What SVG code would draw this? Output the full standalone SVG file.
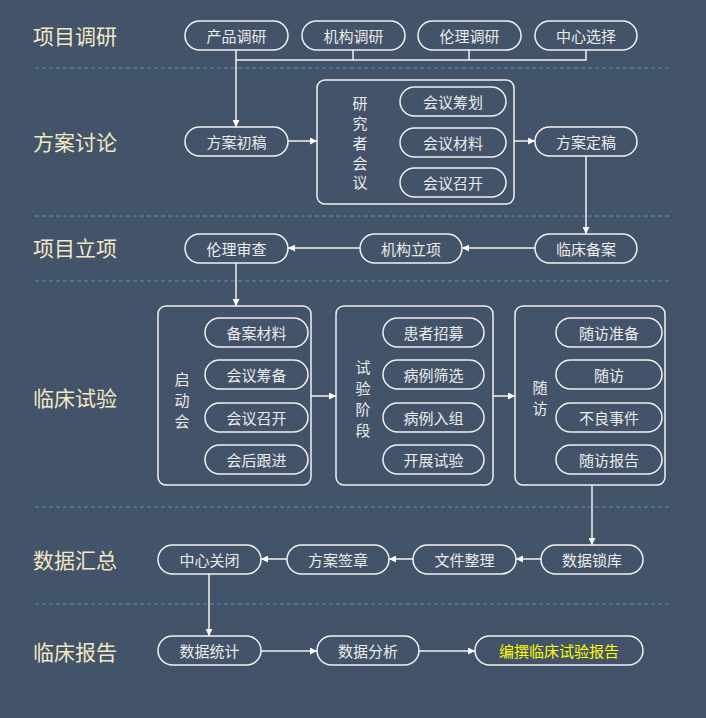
<svg xmlns="http://www.w3.org/2000/svg" width="706" height="718" viewBox="0 0 706 718">
<defs>
<marker id="ah" viewBox="0 0 10 10" refX="10" refY="5" markerWidth="7" markerHeight="7" orient="auto" markerUnits="userSpaceOnUse"><path d="M0,0L10,5L0,10z" fill="#fff"/></marker>
<style>
.p{fill:none;stroke:#f2f2f2;stroke-width:1.5}
.t{font-family:"Noto Sans CJK SC",sans-serif;font-size:15px;fill:#ececec;text-anchor:middle;dominant-baseline:central}
.s{font-family:"Noto Sans CJK SC",sans-serif;font-size:21px;fill:#f2e8c4;dominant-baseline:central}
.d{stroke:#4f8fd0;stroke-width:1;stroke-dasharray:4,3}
.c{fill:none;stroke:#f2f2f2;stroke-width:1.5}
</style>
</defs>
<rect width="706" height="718" fill="#435369"/>
<g id="dividers">
<line class="d" x1="35" y1="68" x2="672" y2="68"/>
<line class="d" x1="35" y1="216" x2="672" y2="216"/>
<line class="d" x1="35" y1="281" x2="672" y2="281"/>
<line class="d" x1="35" y1="507" x2="672" y2="507"/>
<line class="d" x1="35" y1="604" x2="672" y2="604"/>
</g>
<g id="sections">
<text class="s" x="33" y="35">项目调研</text>
<text class="s" x="33" y="141">方案讨论</text>
<text class="s" x="33" y="247">项目立项</text>
<text class="s" x="33" y="397">临床试验</text>
<text class="s" x="33" y="559">数据汇总</text>
<text class="s" x="33" y="651">临床报告</text>
</g>
<g id="connectors">
<path class="c" d="M236,50V60H586V50M353,50V60M469,50V60"/>
<path class="c" d="M236,60V127" marker-end="url(#ah)"/>
<path class="c" d="M288,141H317" marker-end="url(#ah)"/>
<path class="c" d="M514,141H535" marker-end="url(#ah)"/>
<path class="c" d="M586,156V234" marker-end="url(#ah)"/>
<path class="c" d="M535,248H462" marker-end="url(#ah)"/>
<path class="c" d="M360,248H288" marker-end="url(#ah)"/>
<path class="c" d="M236,263V306" marker-end="url(#ah)"/>
<path class="c" d="M311,396H336" marker-end="url(#ah)"/>
<path class="c" d="M493,396H515" marker-end="url(#ah)"/>
<path class="c" d="M592,485V545" marker-end="url(#ah)"/>
<path class="c" d="M541,559H516" marker-end="url(#ah)"/>
<path class="c" d="M413,559H389" marker-end="url(#ah)"/>
<path class="c" d="M287,559H261" marker-end="url(#ah)"/>
<path class="c" d="M209,574V636" marker-end="url(#ah)"/>
<path class="c" d="M261,651H317" marker-end="url(#ah)"/>
<path class="c" d="M419,651H475" marker-end="url(#ah)"/>
</g>
<g id="n1"><rect class="p" x="185" y="21" width="103" height="29" rx="14.5"/><text class="t" x="236.5" y="35.5">产品调研</text></g>
<g id="n2"><rect class="p" x="302" y="21" width="103" height="29" rx="14.5"/><text class="t" x="353.5" y="35.5">机构调研</text></g>
<g id="n3"><rect class="p" x="418" y="21" width="103" height="29" rx="14.5"/><text class="t" x="469.5" y="35.5">伦理调研</text></g>
<g id="n4"><rect class="p" x="535" y="21" width="102" height="29" rx="14.5"/><text class="t" x="586" y="35.5">中心选择</text></g>
<g id="n5"><rect class="p" x="185" y="127" width="103" height="29" rx="14.5"/><text class="t" x="236.5" y="141.5">方案初稿</text></g>
<g id="g1"><rect class="p" x="317" y="80" width="197" height="124" rx="8"/>
<text class="t" x="360" y="102">研</text><text class="t" x="360" y="122">究</text><text class="t" x="360" y="142">者</text><text class="t" x="360" y="162">会</text><text class="t" x="360" y="181">议</text>
<rect class="p" x="400" y="87" width="106" height="29" rx="14.5"/><text class="t" x="453" y="101.5">会议筹划</text>
<rect class="p" x="400" y="128" width="106" height="29" rx="14.5"/><text class="t" x="453" y="142.5">会议材料</text>
<rect class="p" x="400" y="168" width="106" height="29" rx="14.5"/><text class="t" x="453" y="182.5">会议召开</text></g>
<g id="n6"><rect class="p" x="535" y="127" width="102" height="29" rx="14.5"/><text class="t" x="586" y="141.5">方案定稿</text></g>
<g id="n7"><rect class="p" x="535" y="234" width="102" height="29" rx="14.5"/><text class="t" x="586" y="248.5">临床备案</text></g>
<g id="n8"><rect class="p" x="360" y="234" width="102" height="29" rx="14.5"/><text class="t" x="411" y="248.5">机构立项</text></g>
<g id="n9"><rect class="p" x="185" y="234" width="103" height="29" rx="14.5"/><text class="t" x="236.5" y="248.5">伦理审查</text></g>
<g id="g2"><rect class="p" x="158" y="306" width="153" height="179" rx="8"/>
<text class="t" x="182" y="378">启</text><text class="t" x="182" y="399">动</text><text class="t" x="182" y="420">会</text>
<rect class="p" x="205" y="318" width="103" height="29" rx="14.5"/><text class="t" x="256.5" y="332.5">备案材料</text>
<rect class="p" x="205" y="360" width="103" height="29" rx="14.5"/><text class="t" x="256.5" y="374.5">会议筹备</text>
<rect class="p" x="205" y="403" width="103" height="29" rx="14.5"/><text class="t" x="256.5" y="417.5">会议召开</text>
<rect class="p" x="205" y="445" width="103" height="29" rx="14.5"/><text class="t" x="256.5" y="459.5">会后跟进</text></g>
<g id="g3"><rect class="p" x="336" y="306" width="157" height="179" rx="8"/>
<text class="t" x="363" y="366">试</text><text class="t" x="363" y="387">验</text><text class="t" x="363" y="408">阶</text><text class="t" x="363" y="429">段</text>
<rect class="p" x="383" y="318" width="101" height="29" rx="14.5"/><text class="t" x="433.5" y="332.5">患者招募</text>
<rect class="p" x="383" y="360" width="101" height="29" rx="14.5"/><text class="t" x="433.5" y="374.5">病例筛选</text>
<rect class="p" x="383" y="403" width="101" height="29" rx="14.5"/><text class="t" x="433.5" y="417.5">病例入组</text>
<rect class="p" x="383" y="445" width="101" height="29" rx="14.5"/><text class="t" x="433.5" y="459.5">开展试验</text></g>
<g id="g4"><rect class="p" x="515" y="306" width="150" height="179" rx="8"/>
<text class="t" x="540" y="386">随</text><text class="t" x="540" y="407">访</text>
<rect class="p" x="556" y="318" width="106" height="29" rx="14.5"/><text class="t" x="609" y="332.5">随访准备</text>
<rect class="p" x="556" y="360" width="106" height="29" rx="14.5"/><text class="t" x="609" y="374.5">随访</text>
<rect class="p" x="556" y="403" width="106" height="29" rx="14.5"/><text class="t" x="609" y="417.5">不良事件</text>
<rect class="p" x="556" y="445" width="106" height="29" rx="14.5"/><text class="t" x="609" y="459.5">随访报告</text></g>
<g id="n10"><rect class="p" x="541" y="545" width="102" height="29" rx="14.5"/><text class="t" x="592" y="559.5">数据锁库</text></g>
<g id="n11"><rect class="p" x="413" y="545" width="103" height="29" rx="14.5"/><text class="t" x="464.5" y="559.5">文件整理</text></g>
<g id="n12"><rect class="p" x="287" y="545" width="102" height="29" rx="14.5"/><text class="t" x="338" y="559.5">方案签章</text></g>
<g id="n13"><rect class="p" x="158" y="545" width="103" height="29" rx="14.5"/><text class="t" x="209.5" y="559.5">中心关闭</text></g>
<g id="n14"><rect class="p" x="158" y="636" width="103" height="29" rx="14.5"/><text class="t" x="209.5" y="650.5">数据统计</text></g>
<g id="n15"><rect class="p" x="317" y="636" width="102" height="29" rx="14.5"/><text class="t" x="368" y="650.5">数据分析</text></g>
<g id="n16"><rect class="p" x="475" y="636" width="168" height="29" rx="14.5"/><text class="t" x="559" y="650.5" style="fill:#ffff00">编撰临床试验报告</text></g>
</svg>
